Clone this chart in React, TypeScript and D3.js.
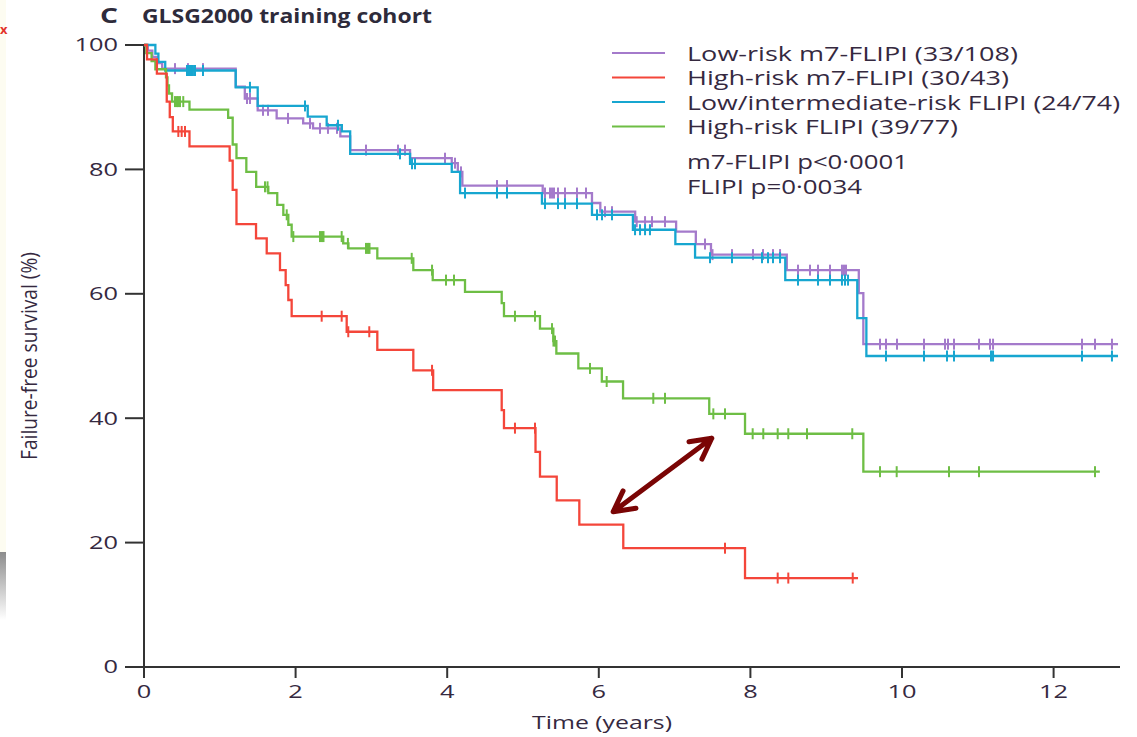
import React from "react";
import * as d3 from "d3";

const W = 1137;
const H = 737;

// Kaplan–Meier steps: [years, failure-free survival %] after each event
const lowM7Steps: [number, number][] = [
  [0, 100], [0.05, 99.1], [0.11, 98.1], [0.17, 97.1], [0.24, 96.2],
  [1.21, 93.3], [1.33, 91.4], [1.5, 89.5], [1.75, 88.2], [2.1, 87.4],
  [2.23, 86.6], [2.59, 85.3], [2.72, 83.1], [3.51, 81.8], [4.06, 81.0],
  [4.14, 79.6], [4.2, 77.4], [5.26, 76.2], [5.91, 74.6], [6.02, 73.2],
  [6.48, 71.6], [7.02, 70.0], [7.28, 68.0], [7.48, 66.3], [8.48, 63.8],
  [9.43, 60.1], [9.49, 51.9],
];
const lowM7Censor: number[] = [
  0.409, 0.58, 0.778, 1.359, 1.398, 1.57, 1.636, 1.9, 2.19, 2.322, 2.427,
  2.546, 2.929, 3.351, 3.443, 3.971, 4.103, 4.182, 4.657, 4.789, 5.29,
  5.356, 5.383, 5.409, 5.462, 5.554, 5.712, 5.831, 6.082, 6.174, 6.5, 6.61,
  6.702, 6.873, 7.401, 7.5, 7.757, 8.034, 8.166, 8.298, 8.391, 8.628, 8.786,
  8.892, 9.05, 9.208, 9.235, 9.261, 9.71, 9.789, 9.934, 10.29, 10.567,
  10.607, 10.686, 11.016, 11.161, 11.201, 12.375, 12.546, 12.77,
];
const lowM7End = 12.85;

const highM7Steps: [number, number][] = [
  [0, 100], [0.04, 97.7], [0.17, 95.4], [0.3, 90.9], [0.34, 88.4],
  [0.38, 86.1], [0.6, 83.7], [1.13, 81.4], [1.17, 76.7], [1.22, 71.2],
  [1.478, 68.9], [1.619, 66.5], [1.794, 63.8], [1.869, 61.4], [1.904, 59.0],
  [1.948, 56.4], [2.674, 53.9], [3.078, 51.0], [3.553, 47.7], [3.815, 44.5],
  [4.719, 41.3], [4.749, 38.4], [5.165, 34.6], [5.224, 30.6], [5.445, 26.8],
  [5.743, 22.9], [6.323, 19.1], [7.929, 14.3],
];
const highM7Censor: number[] = [
  0.453, 0.497, 0.541, 2.344, 2.608, 2.695, 2.972, 3.8, 4.894, 5.158,
  7.665, 8.36, 8.5, 9.35,
];
const highM7End = 9.42;

const lowFlipiSteps: [number, number][] = [
  [0, 100], [0.15, 98.6], [0.19, 97.3], [0.28, 95.9], [1.21, 93.2],
  [1.5, 90.2], [2.16, 88.5], [2.41, 87.1], [2.61, 86.1], [2.72, 82.5],
  [3.51, 80.9], [4.06, 79.6], [4.17, 76.2], [5.25, 74.5], [5.91, 72.7],
  [6.45, 70.3], [7.01, 68.0], [7.27, 65.8], [8.46, 62.2], [9.41, 56.1],
  [9.53, 50.0],
];
const lowFlipiCensor: number[] = [
  0.567, 0.594, 0.62, 0.646, 0.673, 0.778, 1.398, 2.124, 2.559, 3.377,
  3.536, 3.575, 4.235, 4.657, 4.789, 5.29, 5.462, 5.554, 5.712, 5.976,
  6.042, 6.174, 6.478, 6.544, 6.61, 6.675, 7.467, 7.757, 8.153, 8.232,
  8.298, 8.391, 8.628, 8.892, 9.05, 9.208, 9.248, 9.288, 9.789, 10.29,
  10.594, 10.686, 11.174, 11.201, 12.375, 12.77,
];
const lowFlipiEnd = 12.85;

const highFlipiSteps: [number, number][] = [
  [0, 100], [0.03, 98.7], [0.1, 97.4], [0.15, 96.1], [0.29, 94.8],
  [0.31, 93.5], [0.33, 92.2], [0.37, 90.9], [0.6, 89.6], [1.11, 88.3],
  [1.17, 84.0], [1.22, 81.8], [1.35, 79.6], [1.48, 77.2], [1.64, 76.2],
  [1.758, 74.3], [1.838, 72.7], [1.904, 71.1], [1.948, 69.2], [2.628, 68.1],
  [2.697, 67.3], [3.078, 65.7], [3.553, 63.8], [3.809, 62.2], [4.235, 60.3],
  [4.719, 58.5], [4.749, 56.4], [5.224, 54.4], [5.4, 52.4], [5.44, 50.4],
  [5.73, 48.0], [6.04, 45.9], [6.32, 43.2], [7.457, 40.7], [7.929, 37.5],
  [9.49, 31.4],
];
const highFlipiCensor: number[] = [
  0.409, 0.435, 0.453, 0.475, 0.518, 1.596, 1.63, 1.883, 1.97, 2.322,
  2.348, 2.368, 2.608, 2.69, 2.929, 2.955, 2.975, 3.532, 3.8, 3.984, 4.09,
  4.894, 5.158, 5.383, 5.402, 5.422, 5.884, 6.104, 6.719, 6.873, 7.511,
  7.665, 8.03, 8.17, 8.36, 8.5, 8.747, 9.344, 9.71, 9.93, 10.62, 11.016,
  12.546,
];
const highFlipiEnd = 12.61;

const legendLabels = [
  "Low-risk m7-FLIPI (33/108)",
  "High-risk m7-FLIPI (30/43)",
  "Low/intermediate-risk FLIPI (24/74)",
  "High-risk FLIPI (39/77)",
];
const legendWidths = [331, 322, 433, 271];
const pValueLines = ["m7-FLIPI p<0·0001", "FLIPI p=0·0034"];
const pValueWidths = [221, 175];

const xTicks = [0, 2, 4, 6, 8, 10, 12];
const yTicks = [0, 20, 40, 60, 80, 100];

// double-headed arrow between the two high-risk curves, in data units
const arrowFrom: [number, number] = [6.19, 24.97];
const arrowTo: [number, number] = [7.49, 36.77];

const COLORS = {
  purple: "#a47acb",
  red: "#f4463a",
  blue: "#17a6d0",
  green: "#6ebe45",
};

const FONT = "'Open Sans', 'DejaVu Sans', sans-serif";
const TEXT = "#35293f";

const x = d3.scaleLinear().domain([0, 12.876]).range([144, 1120]);
const y = d3.scaleLinear().domain([0, 100]).range([667, 45]);

type Series = {
  key: string;
  color: string;
  steps: [number, number][];
  censor: number[];
  end: number;
};

const series: Series[] = [
  { key: "lowM7", color: COLORS.purple, steps: lowM7Steps, censor: lowM7Censor, end: lowM7End },
  { key: "lowFlipi", color: COLORS.blue, steps: lowFlipiSteps, censor: lowFlipiCensor, end: lowFlipiEnd },
  { key: "highFlipi", color: COLORS.green, steps: highFlipiSteps, censor: highFlipiCensor, end: highFlipiEnd },
  { key: "highM7", color: COLORS.red, steps: highM7Steps, censor: highM7Censor, end: highM7End },
];

const legendColors = [COLORS.purple, COLORS.red, COLORS.blue, COLORS.green];

function levelAt(steps: [number, number][], t: number): number {
  let v = steps[0][1];
  for (const [st, sv] of steps) {
    if (st <= t) v = sv;
    else break;
  }
  return v;
}

const stepLine = d3
  .line<[number, number]>()
  .x((d) => x(d[0]))
  .y((d) => y(d[1]))
  .curve(d3.curveStepAfter);

function arrowPath(): string {
  const x1 = x(arrowFrom[0]);
  const y1 = y(arrowFrom[1]);
  const x2 = x(arrowTo[0]);
  const y2 = y(arrowTo[1]);
  const ang = Math.atan2(y2 - y1, x2 - x1);
  const len = 23;
  const spread = (28 * Math.PI) / 180;
  const head = (px: number, py: number, a: number) => {
    const a1 = a + Math.PI - spread;
    const a2 = a + Math.PI + spread;
    return `M${px + len * Math.cos(a1)},${py + len * Math.sin(a1)}L${px},${py}L${px + len * Math.cos(a2)},${py + len * Math.sin(a2)}`;
  };
  return `M${x1},${y1}L${x2},${y2}` + head(x2, y2, ang) + head(x1, y1, ang + Math.PI);
}

export default function App() {
  return (
    <svg
      width={W}
      height={H}
      viewBox={`0 0 ${W} ${H}`}
      style={{ position: "absolute", left: 0, top: 0, background: "#fff" }}
      fontFamily={FONT}
    >
      <defs>
        <linearGradient id="edgeShade" x1="0" y1="0" x2="0" y2="1">
          <stop offset="0" stopColor="#8c8c8c" />
          <stop offset="1" stopColor="#ffffff" />
        </linearGradient>
      </defs>
      <rect x={0} y={0} width={W} height={H} fill="#fff" />
      {/* neighbouring panel edge */}
      <rect x={0} y={0} width={6} height={552} fill="#fdfcf1" />
      <rect x={0} y={552} width={6} height={68} fill="url(#edgeShade)" />
      <text x={0} y={34} fill="#e3342b" fontSize={13} fontWeight={700}>
        x
      </text>

      {/* title */}
      <text x={100} y={23} fill="#2e2b3b" fontSize={21} fontWeight={700} textLength={18} lengthAdjust="spacingAndGlyphs">
        C
      </text>
      <text x={142} y={23} fill="#2e2b3b" fontSize={20} fontWeight={700} textLength={290} lengthAdjust="spacingAndGlyphs">
        GLSG2000 training cohort
      </text>

      {/* axes */}
      <g stroke="#333" strokeWidth={2} fill="none">
        <line x1={144} x2={144} y1={y(100)} y2={678} />
        <line x1={125} x2={1120} y1={y(0)} y2={y(0)} />
        {yTicks.map((v) => (
          <line key={`yt${v}`} x1={125} x2={144} y1={y(v)} y2={y(v)} />
        ))}
        {xTicks.map((v) => (
          <line key={`xt${v}`} x1={x(v)} x2={x(v)} y1={y(0)} y2={678} />
        ))}
      </g>
      {yTicks.map((v) => (
        <g key={`yl${v}`} transform={`translate(118,${y(v)}) scale(1.45,1)`}>
          <text textAnchor="end" dy="0.36em" fontSize={17.5} fill={TEXT} fontWeight={500}>
            {v}
          </text>
        </g>
      ))}
      {xTicks.map((v) => (
        <g key={`xl${v}`} transform={`translate(${x(v)},692) scale(1.45,1)`}>
          <text textAnchor="middle" dy="0.36em" fontSize={17.5} fill={TEXT} fontWeight={500}>
            {v}
          </text>
        </g>
      ))}
      <text x={532} y={729} fontSize={18.5} fill={TEXT} fontWeight={500} textLength={140} lengthAdjust="spacingAndGlyphs">
        Time (years)
      </text>
      <g transform="translate(37,356) scale(1.35,1) rotate(-90)">
        <text textAnchor="middle" fontSize={15.5} fill={TEXT} fontWeight={500} textLength={208} lengthAdjust="spacingAndGlyphs">
          Failure-free survival (%)
        </text>
      </g>

      {/* survival curves */}
      {series.map((s) => {
        const pts: [number, number][] = [...s.steps, [s.end, s.steps[s.steps.length - 1][1]]];
        return (
          <g key={s.key}>
            <path d={stepLine(pts) ?? ""} fill="none" stroke={s.color} strokeWidth={2.3} />
            {s.censor.map((t, i) => {
              const cy = y(levelAt(s.steps, t));
              return (
                <line
                  key={i}
                  x1={x(t)}
                  x2={x(t)}
                  y1={cy - 5.5}
                  y2={cy + 5.5}
                  stroke={s.color}
                  strokeWidth={2}
                />
              );
            })}
          </g>
        );
      })}

      {/* legend */}
      {legendLabels.map((label, i) => {
        const cy = 53 + i * 24.5;
        return (
          <g key={label}>
            <line x1={612} x2={665} y1={cy} y2={cy} stroke={legendColors[i]} strokeWidth={2} />
            <text x={687} y={cy + 7.5} fontSize={19.5} fill={TEXT} fontWeight={500} textLength={legendWidths[i]} lengthAdjust="spacingAndGlyphs">
              {label}
            </text>
          </g>
        );
      })}
      {pValueLines.map((t, i) => (
        <text
          key={t}
          x={687}
          y={168.5 + i * 25.5}
          fontSize={19.5}
          fill={TEXT}
          fontWeight={500}
          textLength={pValueWidths[i]}
          lengthAdjust="spacingAndGlyphs"
        >
          {t}
        </text>
      ))}

      {/* annotation arrow */}
      <path
        d={arrowPath()}
        fill="none"
        stroke="#7a0505"
        strokeWidth={5}
        strokeLinecap="round"
        strokeLinejoin="round"
      />
    </svg>
  );
}
